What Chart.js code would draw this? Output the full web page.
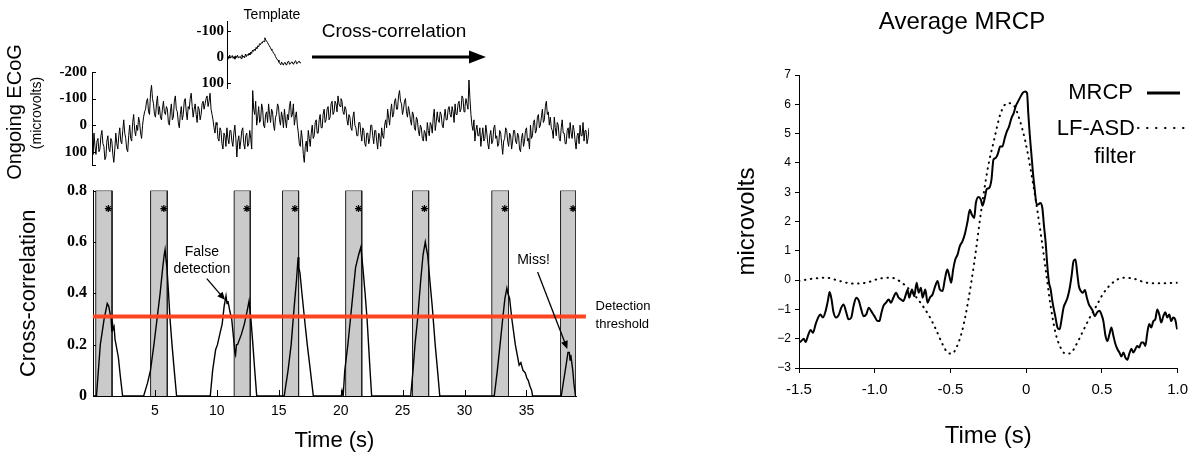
<!DOCTYPE html>
<html>
<head>
<meta charset="utf-8">
<script src="https://cdn.jsdelivr.net/npm/chart.js@4.4.1/dist/chart.umd.min.js"></script>
<style>
  html, body { margin: 0; padding: 0; background: #fff; }
  #wrap { position: relative; width: 1196px; height: 454px; overflow: hidden; }
  canvas { position: absolute; }
</style>
</head>
<body>
<div id="wrap">
  <canvas id="ecog" width="600" height="185" style="left:0;top:0"></canvas>
  <canvas id="xcorr" width="660" height="279" style="left:0;top:175px"></canvas>
  <canvas id="tmpl" width="320" height="100" style="left:190px;top:0"></canvas>
  <canvas id="mrcp" width="496" height="454" style="left:700px;top:0"></canvas>
</div>
<script>
// ongoing ECoG (microvolts, negative up), about one sample per pixel
const ecogUV = [
  70, 110, 30, 80, 110, 60, 50, 100, 90, 40, 20, 70, 80, 130, 120, 60, 40, 90, 100, 50, 60, 110, 140, 90,
  30, 70, 90, 40, 10, 60, 70, 20, -20, 30, 50, 90, 100, 40, 0, 50, 60, -10, -40, 20, 40, 0, 20, -30, -10, 30, 50, 0, -30, -50,
  -60, -90, -100, -50, -40, -120, -150, -100, -80, -40,
  -30, -80, -110, -40, -70, -30, -20, -60, -90, -50, -40, -70, -60, -10, 0, -50, -80, -20, -30, -90, -110, -60, -50, -10, 10,
  -40, -70, -20, -40, -90, -100, -50, -20, -70, -60, -100, -120, -70, -30, -60, -80, -40, -10, -70, -60, -20, -40, -80, -90, -60,
  -80, -100, -110, -70, -90, -120, -60, -40,
  -20, 10, 30, -10, 0, 50, 60, 10, 20, 70, 90, 30, 40, 80, 10, 50, 70, 20,
  20, 60, 80, 30, 0, 50, 120, 60, 40, 90, 60, 20, 10, 70, 90, 40, 30, 80, 70, 20, 50, 90,
  -130, -60, -40, -90, 0, -30, -70, -10, -20, -80, -60, 0, 10, -40, -50, -10,
  -80, -40, -10, -60, -50, 0, 20, -30, -40, -80, -70, -20, 0, -50, -30, 10, -60, -20, 10, -40, -20, -70, -90, -30, -40, -80, 0, -30, -50, 0,
  30, 70, 80, 20, 50, 110, 140, 80,
  60, 100, 20, 50, 80, 30, 0, 50, 40, -10, -20, 30, 30, -20, -40, 10, 10, -40, -60, -10, -20, -60, -70, -20, -30, -80, -90, -40, -50, -90,
  -80, -50, -110, -80, -70, -100, -90, -50, -40, -70,
  -60, -20, 0, -40, -30, 10, 20, -30, -50, 0, 10, 40, 40, -10, -10, 30, 60, 10, 20, 70, 80, 30, 30, 70, 50, 0, 0, 40, 70, 20,
  20, 60, 90, 30, 40, 80, 10, 40, 50, 0,
  -20, 10, -60, -30, 0, -50, -80, -30, -40, -90, -100, -60, -60, -110, -130, -90,
  -80, -40, -60, -90, -100, -50, -30, -70, -50, -20, 0, -50, -40, 10, 20, -30, -20, 20, 40, 0, 10, 50, 60, 20,
  30, 60, -10, 20, 40, -10, 0, 30, -30, -60, 20, -10, -50, -20, -10, -50, -40, 0, 10, -30, -60, -20,
  -20, -60, -70, -40, -30, -70, -50, -10, -80, -40, -40, -80, -90, -50, -60, -110, -100, -50, -70, -100, -80, -60,
  -170, -100,
  -40, 0, 20, -20, 60, 20, 0, 40, 40, 10, 80, 40, 10, 60, 50, 0, 30, 70, 90, 40, 20, 70,
  60, 10, 0, 50, 40, 80, 70, 20, 30, 70, 110, 60, 50, 10, 20, 60, 80, 30, 40, 90, 60, 20,
  20, 60, 70, 30, 40, 90, 100, 50, 30, 80, 60, 20, 10, 60, 50, 90,
  0, 50, 40, -10, -20, 30, 20, -30, -40, 10, 0, -30, -60, -10, -20, -70, -90, -40, -50, 0, -30, 10,
  20, 50, -30, 10, 40, -10, 0, 50, 60, 10, -20, 30, 30, 70, 70, 20, 10, 50, -10,
  30, 50, 0, 20, 60, 90, 40, 30, 70, 0, 40, 40, -10, 60, 20, 20, 70, 50, 10
];
const ecogTicks = [-200, -100, 0, 100];

// template waveform
const templateUV = [
  9, -4, 6, -8, 3, 1, -6, 5, -2, 8, -5, 2, -7, 4, 0, -3, 6, -9, 1, -4, 3, -12, -2, -10, -6, -15, -8, -20,
  -14, -27, -22, -31, -25, -37, -33, -44, -40, -52, -48, -56, -54, -62, -60, -75, -66, -62, -56, -50, -44,
  -38, -31, -26, -21, -14, -12, -2, 4, 10, 12, 20, 25, 30, 19, 28, 31, 22, 21, 30, 27, 18, 16, 28, 26, 20,
  19, 27, 25, 17, 14, 26, 24, 18, 16, 23, 21
];
const templateTicks = [-100, 0, 100];

// cross-correlation output
const xcTime = [
  0, 0.28, 0.59, 0.9, 1.15, 1.27, 1.46, 1.52, 1.56, 1.62, 1.7, 1.78, 1.86, 2.05, 2.2, 2.39,
  4.09, 4.4, 4.64, 4.92, 5.17, 5.42, 5.63, 5.75, 5.82, 5.9, 5.97, 6.1, 6.22, 6.38, 6.56, 6.75,
  9.47, 9.66, 9.9, 10.05, 10.28, 10.43, 10.59, 10.74, 10.82, 10.9, 11.05, 11.2, 11.36, 11.45, 11.51, 11.58, 11.67, 11.98, 12.22, 12.44, 12.6, 12.75, 12.91, 13.06, 13.22,
  15.44, 15.75, 16.0, 16.25, 16.43, 16.56, 16.62, 16.71, 16.87, 17.08, 17.3, 17.55, 17.79,
  20.05, 20.11, 20.2, 20.33, 20.58, 20.89, 21.2, 21.45, 21.63, 21.79, 21.97, 22.13, 22.25, 22.37, 22.5,
  25.65, 25.84, 26.0, 26.21, 26.46, 26.65, 26.83, 26.9, 27.02, 27.2, 27.39, 27.63, 27.82, 28.0,
  32.4, 32.65, 32.87, 33.08, 33.26, 33.42, 33.5, 33.64, 33.82, 34.1, 34.41, 34.55, 34.72, 34.9, 35.03, 35.15, 35.27, 35.43, 35.49,
  37.81, 37.97, 38.2, 38.35, 38.46, 38.52, 38.58, 38.74, 38.83, 38.96
];
const xcValue = [
  0, 0, 0.2, 0.3, 0.36, 0.35, 0.3, 0.25, 0.29, 0.26, 0.27, 0.22, 0.2, 0.15, 0.08, 0,
  0, 0.05, 0.1, 0.2, 0.3, 0.4, 0.5, 0.55, 0.57, 0.53, 0.5, 0.4, 0.3, 0.2, 0.1, 0,
  0, 0.1, 0.18, 0.2, 0.25, 0.28, 0.35, 0.39, 0.36, 0.37, 0.33, 0.3, 0.22, 0.17, 0.16, 0.2, 0.2, 0.24, 0.28, 0.33, 0.37, 0.3, 0.2, 0.1, 0,
  0, 0.1, 0.2, 0.35, 0.45, 0.54, 0.5, 0.48, 0.4, 0.3, 0.2, 0.1, 0,
  0, 0.02, 0, 0.1, 0.2, 0.35, 0.5, 0.55, 0.58, 0.5, 0.4, 0.3, 0.2, 0.1, 0,
  0, 0.1, 0.2, 0.3, 0.45, 0.55, 0.6, 0.58, 0.55, 0.45, 0.35, 0.2, 0.1, 0,
  0, 0.1, 0.2, 0.3, 0.38, 0.42, 0.4, 0.38, 0.3, 0.2, 0.12, 0.13, 0.1, 0.09, 0.07, 0.06, 0.04, 0.02, 0,
  0, 0.05, 0.12, 0.17, 0.17, 0.14, 0.16, 0.1, 0.05, 0
];
const bandStart = [0.22, 4.65, 11.4, 15.3, 20.4, 25.8, 32.2, 37.75];
const bandEnd = [1.54, 6.0, 12.7, 16.6, 21.7, 27.1, 33.55, 39.0];
const starTime = [1.24, 5.72, 12.43, 16.3, 21.44, 26.76, 33.25, 38.76];
const starLevel = 0.73;
const threshold = 0.31;
const xcTimeTicks = [5, 10, 15, 20, 25, 30, 35];
const xcValueTicks = [0, 0.2, 0.4, 0.6, 0.8];
const xcValueLabels = ['0', '0.2', '0.4', '0.6', '0.8'];

// average MRCP and LF-ASD filter
const mrcpTime = [
  -1.5, -1.485, -1.469, -1.456, -1.441, -1.423, -1.408, -1.39, -1.375, -1.359, -1.342, -1.324, -1.309, -1.298, -1.285,
  -1.272, -1.254, -1.236, -1.221, -1.206, -1.188, -1.173, -1.155, -1.14, -1.122, -1.105, -1.089, -1.074, -1.056, -1.039,
  -1.024, -1.002, -0.98, -0.969, -0.958, -0.943, -0.925, -0.908, -0.893, -0.877, -0.859, -0.842, -0.827, -0.811, -0.794,
  -0.783, -0.772, -0.754, -0.739, -0.723, -0.71, -0.695, -0.684, -0.666, -0.651, -0.636, -0.618, -0.6, -0.585, -0.57,
  -0.552, -0.537, -0.521, -0.508, -0.495, -0.482, -0.468, -0.453, -0.438, -0.42, -0.403, -0.387, -0.372, -0.359, -0.343,
  -0.332, -0.315, -0.299, -0.288, -0.273, -0.26, -0.245, -0.229, -0.216, -0.201, -0.185, -0.172, -0.157, -0.141, -0.128,
  -0.113, -0.097, -0.082, -0.069, -0.053, -0.036, -0.021, -0.007, 0.006, 0.014, 0.023, 0.034, 0.045, 0.058, 0.069,
  0.08, 0.093, 0.107, 0.118, 0.129, 0.14, 0.151, 0.162, 0.173, 0.183, 0.194, 0.207, 0.221, 0.234, 0.247,
  0.26, 0.273, 0.286, 0.3, 0.313, 0.326, 0.337, 0.348, 0.361, 0.374, 0.388, 0.401, 0.414, 0.427, 0.44,
  0.453, 0.469, 0.484, 0.497, 0.51, 0.524, 0.537, 0.55, 0.563, 0.576, 0.59, 0.603, 0.616, 0.629, 0.642,
  0.655, 0.668, 0.682, 0.695, 0.708, 0.721, 0.734, 0.747, 0.761, 0.774, 0.787, 0.8, 0.813, 0.826, 0.84,
  0.853, 0.866, 0.879, 0.892, 0.906, 0.919, 0.932, 0.945, 0.958, 0.971, 0.984, 0.997
];
const mrcpUV = [
  -2.13, -2.08, -2.0, -2.11, -1.9, -1.7, -1.8, -1.5, -1.3, -1.17, -1.28, -1.05, -0.7, -0.41, -0.66,
  -1.1, -1.28, -1.17, -0.94, -0.83, -1.1, -1.34, -1.28, -0.89, -0.6, -0.7, -1.0, -1.23, -1.17, -0.94,
  -1.05, -1.23, -1.4, -1.4, -1.17, -0.89, -0.77, -0.66, -0.77, -0.6, -0.43, -0.6, -0.66, -0.71, -0.49,
  -0.32, -0.6, -0.32, -0.55, -0.09, -0.43, -0.26, -0.6, -0.32, -0.77, -0.6, -0.49, -0.2, -0.03, -0.32,
  -0.37, 0.02, 0.36, 0.16, -0.09, 0.36, 0.7, 0.87, 1.16, 1.33, 1.61, 2.0, 2.4, 2.24, 2.12,
  2.63, 2.84, 2.75, 2.54, 2.8, 3.11, 3.14, 3.43, 4.11, 4.17, 4.34, 4.56, 4.56, 4.85, 5.07,
  5.24, 5.53, 5.7, 5.93, 6.1, 6.27, 6.4, 6.44, 6.38, 5.7, 5.02, 4.34, 3.66, 3.03, 2.58,
  2.58, 2.63, 2.46, 1.84, 1.27, 0.48, -0.09, -0.32, -0.72, -1.0, -1.28, -1.62, -1.68, -1.34, -0.94,
  -0.77, -0.6, -0.32, 0.14, 0.65, 0.7, 0.25, -0.2, -0.37, -0.43, -0.34, -0.6, -0.83, -0.94, -1.05,
  -1.23, -1.1, -1.05, -1.17, -1.4, -1.9, -2.08, -1.85, -1.62, -1.9, -2.19, -2.36, -2.47, -2.61, -2.47,
  -2.64, -2.72, -2.5, -2.34, -2.47, -2.36, -2.25, -2.3, -2.13, -2.13, -2.25, -1.8, -1.5, -1.62, -1.4,
  -1.34, -1.0, -1.17, -1.45, -1.23, -1.1, -1.28, -1.17, -1.4, -1.28, -1.34, -1.68
];
const lfasdTime = [
  -1.5, -1.408, -1.32, -1.232, -1.144, -1.057, -0.969, -0.892, -0.837, -0.771, -0.705, -0.64, -0.596, -0.552,
  -0.519, -0.49, -0.46, -0.42, -0.381, -0.343, -0.299, -0.255, -0.211, -0.168, -0.124, -0.08, -0.043, -0.003,
  0.03, 0.063, 0.096, 0.129, 0.162, 0.194, 0.227, 0.26, 0.293, 0.326, 0.37, 0.414, 0.469, 0.513, 0.576,
  0.642, 0.708, 0.796, 0.883, 1.0
];
const lfasdUV = [
  -0.03, 0.05, 0.08, -0.03, -0.12, -0.09, 0.05, 0.08, -0.03, -0.32, -0.72, -1.23, -1.68, -2.19,
  -2.47, -2.51, -2.3, -1.68, -0.66, 0.59, 2.29, 3.77, 4.8, 5.7, 6.04, 5.95, 5.47, 4.68,
  3.77, 2.75, 1.61, 0.36, -0.89, -1.8, -2.3, -2.51, -2.5, -2.25, -1.8, -1.34, -0.83, -0.43, -0.07,
  0.08, 0.05, -0.09, -0.11, -0.09
];
const mrcpTimeTicks = [-1.5, -1.0, -0.5, 0, 0.5, 1.0];
const mrcpTimeLabels = ['-1.5', '-1.0', '-0.5', '0', '0.5', '1.0'];
const mrcpUVTicks = [-3, -2, -1, 0, 1, 2, 3, 4, 5, 6, 7];
const mrcpUVLabels = ['\u22123', '\u22122', '\u22121', '0', '1', '2', '3', '4', '5', '6', '7'];

Chart.defaults.font.family = '"Liberation Sans", Arial, sans-serif';
Chart.defaults.color = '#000';
Chart.defaults.animation = false;
Chart.defaults.plugins.legend.display = false;
Chart.defaults.plugins.tooltip.enabled = false;

const SERIF = '"Liberation Serif", "Times New Roman", serif';

// short tick marks pointing into the plot
const inTicks = {
  id: 'inTicks',
  afterDraw(chart, args, opts) {
    const ctx = chart.ctx, area = chart.chartArea;
    ctx.save();
    ctx.strokeStyle = '#000';
    ctx.lineWidth = 1;
    (opts.marks || []).forEach(m => {
      const s = chart.scales[m.axis];
      m.values.forEach(v => {
        const p = Math.round(s.getPixelForValue(v)) + 0.5;
        ctx.beginPath();
        if (m.axis === 'x') {
          ctx.moveTo(p, area.bottom);
          ctx.lineTo(p, area.bottom - m.len);
        } else {
          ctx.moveTo(area.left, p);
          ctx.lineTo(area.left + m.len, p);
        }
        ctx.stroke();
      });
    });
    ctx.restore();
  }
};

// free text, arrows and legend samples
const notes = {
  id: 'notes',
  afterDraw(chart, args, opts) {
    const ctx = chart.ctx;
    const pt = (it, x, y) => it.data
      ? [chart.scales.x.getPixelForValue(x), chart.scales.y.getPixelForValue(y)]
      : [x, y];
    ctx.save();
    (opts.items || []).forEach(it => {
      ctx.fillStyle = '#000';
      ctx.strokeStyle = '#000';
      if (it.text) {
        const [x, y] = pt(it, it.x, it.y);
        ctx.font = it.font;
        ctx.textAlign = it.align || 'center';
        ctx.textBaseline = 'middle';
        ctx.save();
        ctx.translate(x, y);
        if (it.rot) ctx.rotate(it.rot);
        ctx.fillText(it.text, 0, 0);
        ctx.restore();
      } else {
        const [x1, y1] = pt(it, it.x1, it.y1);
        const [x2, y2] = pt(it, it.x2, it.y2);
        ctx.lineWidth = it.width || 1;
        ctx.lineCap = it.dash ? 'round' : 'butt';
        ctx.setLineDash(it.dash || []);
        const a = Math.atan2(y2 - y1, x2 - x1);
        const hl = it.head || 0;
        ctx.beginPath();
        ctx.moveTo(x1, y1);
        ctx.lineTo(x2 - Math.cos(a) * hl * 0.8, y2 - Math.sin(a) * hl * 0.8);
        ctx.stroke();
        ctx.setLineDash([]);
        if (hl) {
          const hw = it.hw || hl * 0.4;
          ctx.beginPath();
          ctx.moveTo(x2, y2);
          ctx.lineTo(x2 - Math.cos(a) * hl - Math.sin(a) * hw, y2 - Math.sin(a) * hl + Math.cos(a) * hw);
          ctx.lineTo(x2 - Math.cos(a) * hl + Math.sin(a) * hw, y2 - Math.sin(a) * hl - Math.cos(a) * hw);
          ctx.closePath();
          ctx.fill();
        }
      }
    });
    ctx.restore();
  }
};

const fixedTicks = list => s => { s.ticks = list.map(v => ({ value: v })); };

// ---- ongoing ECoG ----
new Chart(document.getElementById('ecog'), {
  type: 'line',
  data: {
    datasets: [{
      data: ecogUV.map((v, i) => ({ x: i, y: v })),
      borderColor: '#000',
      borderWidth: 1,
      pointRadius: 0
    }]
  },
  options: {
    responsive: false,
    layout: { padding: { top: 72, right: 11, bottom: 20, left: 0 } },
    scales: {
      x: { type: 'linear', display: false, min: 0, max: ecogUV.length - 1 },
      y: {
        min: -200, max: 150, reverse: true,
        afterFit: s => { s.width = 92; },
        afterBuildTicks: fixedTicks(ecogTicks),
        grid: { display: false, drawTicks: false },
        border: { display: true, color: '#000', width: 1 },
        ticks: { font: { family: SERIF, weight: 'bold', size: 15 }, padding: 5, callback: v => String(v) }
      }
    },
    plugins: {
      inTicks: { marks: [{ axis: 'y', values: ecogTicks.concat([150]), len: 4 }] },
      notes: {
        items: [
          { text: 'Ongoing ECoG', x: 15, y: 112, rot: -Math.PI / 2, font: '20px "Liberation Sans"' },
          { text: '(microvolts)', x: 37, y: 113, rot: -Math.PI / 2, font: '14px "Liberation Sans"' }
        ]
      }
    }
  },
  plugins: [inTicks, notes]
});

// ---- template inset ----
new Chart(document.getElementById('tmpl'), {
  type: 'line',
  data: {
    datasets: [{
      data: templateUV.map((v, i) => ({ x: i, y: v })),
      borderColor: '#000',
      borderWidth: 1,
      pointRadius: 0
    }]
  },
  options: {
    responsive: false,
    layout: { padding: { top: 21, right: 209, bottom: 10, left: 0 } },
    scales: {
      x: { type: 'linear', display: false, min: 0, max: templateUV.length - 1 },
      y: {
        min: -140, max: 120, reverse: true,
        afterFit: s => { s.width = 37; },
        afterBuildTicks: fixedTicks(templateTicks),
        grid: { display: false, drawTicks: false },
        border: { display: true, color: '#000', width: 1 },
        ticks: { font: { family: SERIF, weight: 'bold', size: 15 }, padding: 3, callback: v => String(v) }
      }
    },
    plugins: {
      inTicks: { marks: [{ axis: 'y', values: templateTicks, len: 4 }] },
      notes: {
        items: [
          { text: 'Template', x: 82, y: 15, font: '14px "Liberation Sans"' },
          { text: 'Cross-correlation', x: 204, y: 32, font: '19px "Liberation Sans"' },
          { x1: 122, y1: 57, x2: 296, y2: 57, width: 3, head: 17, hw: 6.5 }
        ]
      }
    }
  },
  plugins: [inTicks, notes]
});

// ---- cross-correlation ----
const bandSets = bandStart.map((s, i) => ({
  data: [{ x: s, y: 0 }, { x: s, y: 0.8 }, { x: bandEnd[i], y: 0.8 }, { x: bandEnd[i], y: 0 }],
  borderColor: '#222',
  borderWidth: 1,
  backgroundColor: '#cacaca',
  fill: 'origin',
  pointRadius: 0,
  order: 3
}));

new Chart(document.getElementById('xcorr'), {
  type: 'line',
  data: {
    datasets: [
      {
        type: 'scatter',
        data: starTime.map(t => ({ x: t, y: starLevel })),
        pointStyle: 'star', pointRadius: 3.5, borderColor: '#000', borderWidth: 1.2,
        order: 0
      },
      {
        data: [{ x: 0, y: threshold }, { x: 39.8, y: threshold }],
        borderColor: '#ff4520', borderWidth: 4, pointRadius: 0, clip: false,
        order: 1
      },
      {
        data: xcTime.map((t, i) => ({ x: t, y: xcValue[i] })),
        borderColor: '#000', borderWidth: 1.4, pointRadius: 0,
        order: 2
      }
    ].concat(bandSets)
  },
  options: {
    responsive: false,
    layout: { padding: { top: 12, right: 84, bottom: 0, left: 0 } },
    scales: {
      x: {
        type: 'linear', min: 0, max: 39,
        afterFit: s => { s.height = 58; },
        afterBuildTicks: fixedTicks(xcTimeTicks),
        grid: { display: false, drawTicks: false },
        border: { display: true, color: '#000', width: 1 },
        ticks: { font: { size: 14 }, padding: 7, maxRotation: 0, autoSkip: false, callback: v => String(v) },
        title: { display: true, text: 'Time (s)', font: { size: 22 }, padding: { top: 0, bottom: 0 } }
      },
      y: {
        min: 0, max: 0.8,
        afterFit: s => { s.width = 93; },
        afterBuildTicks: fixedTicks(xcValueTicks),
        grid: { display: false, drawTicks: false },
        border: { display: true, color: '#000', width: 1 },
        ticks: { font: { family: SERIF, weight: 'bold', size: 16 }, padding: 6, callback: v => xcValueLabels[xcValueTicks.indexOf(v)] },
        title: { display: true, text: 'Cross-correlation', font: { size: 22 }, padding: { top: 16, bottom: 0 } }
      }
    },
    plugins: {
      inTicks: {
        marks: [
          { axis: 'x', values: xcTimeTicks, len: 6 },
          { axis: 'y', values: xcValueTicks.slice(1), len: 3 }
        ]
      },
      notes: {
        items: [
          { data: true, text: 'False', x: 8.79, y: 0.562, font: '14px "Liberation Sans"' },
          { data: true, text: 'detection', x: 8.79, y: 0.494, font: '14px "Liberation Sans"' },
          { data: true, x1: 9.19, y1: 0.457, x2: 10.67, y2: 0.374, width: 1.3, head: 8, hw: 3.5 },
          { data: true, text: 'Miss!', x: 35.57, y: 0.529, font: '14px "Liberation Sans"' },
          { data: true, x1: 35.9, y1: 0.483, x2: 38.3, y2: 0.183, width: 1.3, head: 8, hw: 3.5 },
          { data: true, text: 'Detection', x: 40.58, y: 0.349, align: 'left', font: '13px "Liberation Sans"' },
          { data: true, text: 'threshold', x: 40.58, y: 0.28, align: 'left', font: '13px "Liberation Sans"' }
        ]
      }
    }
  },
  plugins: [inTicks, notes]
});

// ---- average MRCP ----
new Chart(document.getElementById('mrcp'), {
  type: 'line',
  data: {
    datasets: [
      {
        data: mrcpTime.map((t, i) => ({ x: t, y: mrcpUV[i] })),
        borderColor: '#000', borderWidth: 2, pointRadius: 0,
        cubicInterpolationMode: 'monotone'
      },
      {
        data: lfasdTime.map((t, i) => ({ x: t, y: lfasdUV[i] })),
        borderColor: '#000', borderWidth: 2, pointRadius: 0,
        borderDash: [0.5, 5.5], borderCapStyle: 'round',
        cubicInterpolationMode: 'monotone'
      }
    ]
  },
  options: {
    responsive: false,
    layout: { padding: { top: 75, right: 17, bottom: 0, left: 0 } },
    scales: {
      x: {
        type: 'linear', min: -1.5, max: 1.0,
        afterFit: s => { s.height = 86; },
        afterBuildTicks: fixedTicks(mrcpTimeTicks),
        grid: { display: true, drawOnChartArea: false, drawTicks: true, tickLength: 5, tickColor: '#000' },
        border: { display: true, color: '#000', width: 1 },
        ticks: { font: { size: 15 }, padding: 8, maxRotation: 0, autoSkip: false, callback: v => mrcpTimeLabels[mrcpTimeTicks.indexOf(v)] },
        title: { display: true, text: 'Time (s)', font: { size: 24 }, padding: { top: 0, bottom: 3 } }
      },
      y: {
        min: -3, max: 7,
        afterFit: s => { s.width = 99; },
        afterBuildTicks: fixedTicks(mrcpUVTicks),
        grid: { display: true, drawOnChartArea: false, drawTicks: true, tickLength: 4, tickColor: '#000' },
        border: { display: true, color: '#000', width: 1 },
        ticks: { font: { size: 12 }, padding: 4, callback: v => mrcpUVLabels[mrcpUVTicks.indexOf(v)] },
        title: { display: true, text: 'microvolts', font: { size: 24 }, padding: { top: 33, bottom: 0 } }
      }
    },
    plugins: {
      notes: {
        items: [
          { text: 'Average MRCP', x: 262, y: 22, font: '24px "Liberation Sans"' },
          { text: 'MRCP', x: 433, y: 93, align: 'right', font: '22px "Liberation Sans"' },
          { x1: 447, y1: 93, x2: 480, y2: 93, width: 3 },
          { text: 'LF-ASD', x: 435, y: 129, align: 'right', font: '22px "Liberation Sans"' },
          { x1: 438, y1: 128, x2: 484, y2: 128, width: 2, dash: [0.5, 8.5] },
          { text: 'filter', x: 415, y: 157, font: '22px "Liberation Sans"' }
        ]
      }
    }
  },
  plugins: [notes]
});
</script>
</body>
</html>
